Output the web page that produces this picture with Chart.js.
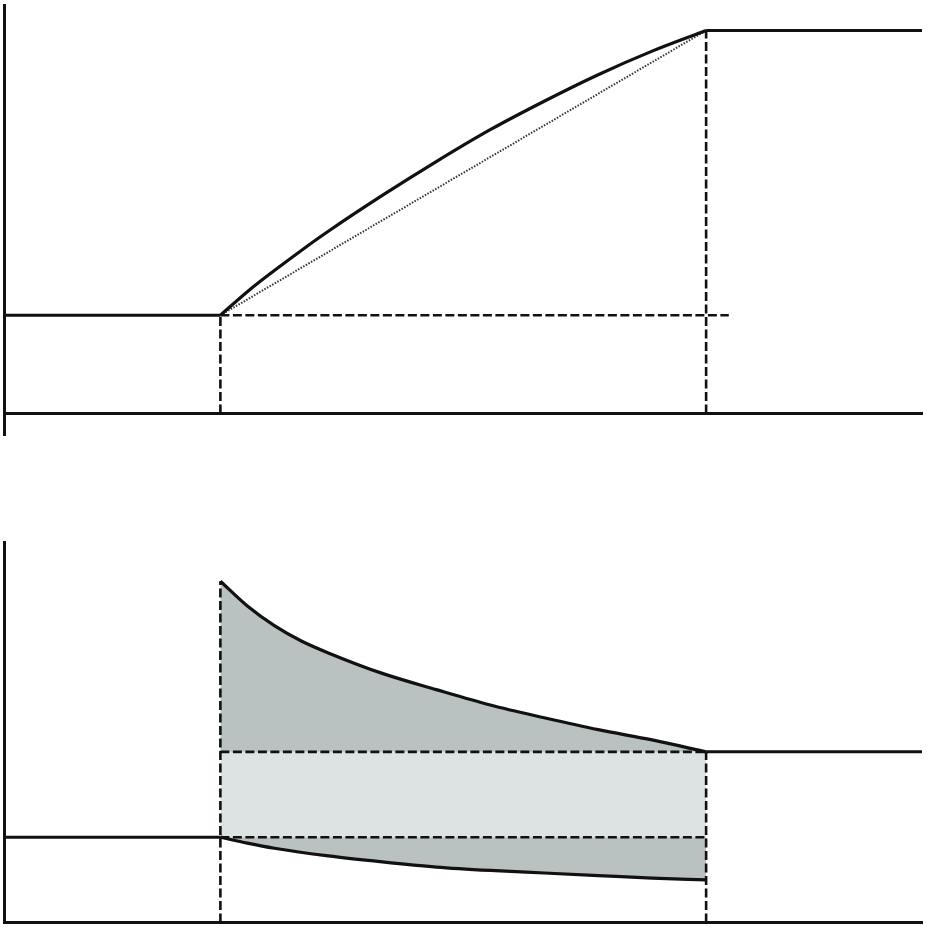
<!DOCTYPE html>
<html>
<head>
<meta charset="utf-8">
<script src="https://cdn.jsdelivr.net/npm/chart.js@4.4.1/dist/chart.umd.min.js"></script>
<style>
    body { margin: 0; background: #fff; }
    canvas { display: block; }
</style>
</head>
<body>
<canvas id="topChart" width="927" height="445"></canvas>
<canvas id="bottomChart" width="927" height="482"></canvas>
<script>
// Shared time axis: step starts at tStart, new state reached at tEnd
const xMax = 8.5;
const tStart = 2;
const tEnd = 6.5;

// Top panel: level before / after, actual curve, linear reference
const topBefore = 1.0;
const topAfter = 3.9;
const topCurveT = [2, 2.25, 2.5, 2.75, 3, 3.5, 4, 4.5, 5, 5.5, 6, 6.5];
const topCurveY = [1.0, 1.24, 1.455, 1.66, 1.855, 2.22, 2.565, 2.89, 3.18, 3.45, 3.69, 3.9];
const topGuideEnd = 6.71;

// Bottom panel: level before / after, upper and lower curves
const botBefore = 1.0;
const botAfter = 2.0;
const upperT = [2, 2.25, 2.5, 2.75, 3, 3.5, 4, 4.5, 5, 5.5, 6, 6.5];
const upperY = [4.0, 3.71, 3.48, 3.30, 3.16, 2.92, 2.73, 2.55, 2.40, 2.26, 2.14, 2.0];
const lowerT = [2, 2.25, 2.5, 3, 3.5, 4, 4.5, 5, 5.5, 6, 6.5];
const lowerY = [1.0, 0.93, 0.87, 0.78, 0.71, 0.65, 0.61, 0.58, 0.55, 0.52, 0.50];

const ink = '#111';
const darkFill = '#b9c2c0';
const lightFill = '#dde3e3';
const dash = [9, 3.5];

function seg(xs, ys, opts) {
    return Object.assign({
        data: xs.map((x, i) => ({ x: x, y: ys[i] })),
        borderColor: ink,
        borderWidth: 3,
        pointRadius: 0,
        tension: 0,
        fill: false,
        clip: false
    }, opts || {});
}

function baseOptions(yMin, yMax, padding) {
    return {
        responsive: false,
        animation: false,
        devicePixelRatio: 1,
        layout: { padding: padding },
        plugins: {
            legend: { display: false },
            tooltip: { enabled: false },
            filler: { drawTime: 'beforeDatasetsDraw' }
        },
        scales: {
            x: {
                type: 'linear',
                min: 0,
                max: xMax,
                position: { y: 0 },
                ticks: { display: false },
                grid: { display: false, drawTicks: false },
                border: { display: true, color: ink, width: 3 }
            },
            y: {
                type: 'linear',
                min: yMin,
                max: yMax,
                position: 'left',
                ticks: { display: false },
                grid: { display: false, drawTicks: false },
                border: { display: true, color: ink, width: 3 }
            }
        }
    };
}

// Top panel
new Chart(document.getElementById('topChart').getContext('2d'), {
    type: 'line',
    data: {
        datasets: [
            seg(topCurveT, topCurveY, { cubicInterpolationMode: 'monotone', borderWidth: 3.2 }),
            seg([tStart, tEnd], [topBefore, topAfter], { borderWidth: 2, borderDash: [1.5, 1.5], borderColor: '#333' }),
            seg([0, tStart], [topBefore, topBefore]),
            seg([tEnd, xMax], [topAfter, topAfter]),
            seg([tStart, topGuideEnd], [topBefore, topBefore], { borderWidth: 2.6, borderDash: dash }),
            seg([tStart, tStart], [0, topBefore], { borderWidth: 2.6, borderDash: dash }),
            seg([tEnd, tEnd], [0, topAfter], { borderWidth: 2.6, borderDash: dash })
        ]
    },
    options: baseOptions(-0.22, 4.16, { left: 4.5, right: 5, top: 5, bottom: 10 })
});

// Bottom panel
new Chart(document.getElementById('bottomChart').getContext('2d'), {
    type: 'line',
    data: {
        datasets: [
            seg(upperT, upperY, { cubicInterpolationMode: 'monotone', borderWidth: 3.2, fill: { target: 2 }, backgroundColor: darkFill }),
            seg(lowerT, lowerY, { cubicInterpolationMode: 'monotone', borderWidth: 3.2 }),
            seg([tStart, tEnd], [botAfter, botAfter], { borderWidth: 2.6, borderDash: dash, fill: { target: 3 }, backgroundColor: lightFill }),
            seg([tStart, tEnd], [botBefore, botBefore], { borderWidth: 2.6, borderDash: dash, fill: { target: 1 }, backgroundColor: darkFill }),
            seg([0, tStart], [botBefore, botBefore]),
            seg([tEnd, xMax], [botAfter, botAfter]),
            seg([tStart, tStart], [0, upperY[0]], { borderWidth: 2.6, borderDash: dash }),
            seg([tEnd, tEnd], [0, botAfter], { borderWidth: 2.6, borderDash: dash })
        ]
    },
    options: baseOptions(0, 4.46, { left: 4.5, right: 5, top: 97, bottom: 4.5 })
});
</script>
</body>
</html>
